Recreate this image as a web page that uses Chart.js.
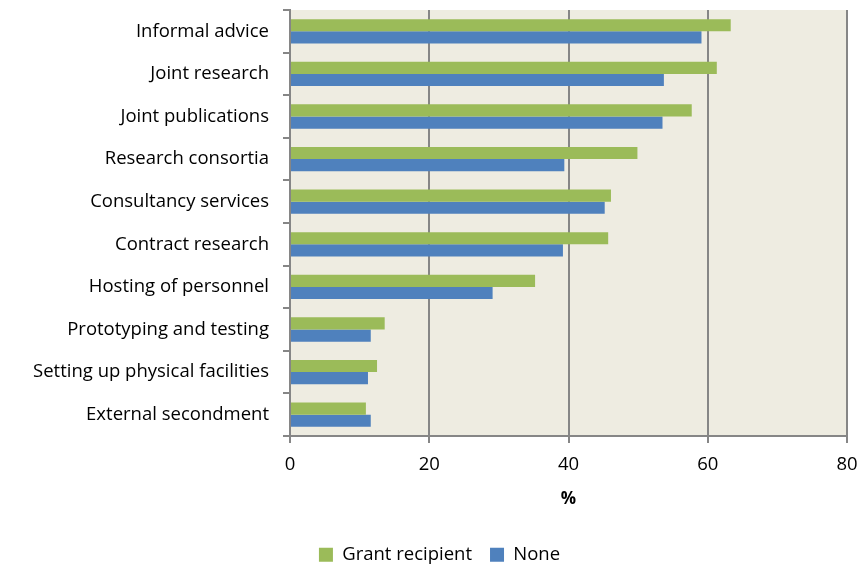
<!DOCTYPE html>
<html>
<head>
<meta charset="utf-8">
<script src="https://cdn.jsdelivr.net/npm/chart.js@4"></script>
<style>
  body { margin: 0; background: #fff; }
  #wrap { width: 859px; height: 565px; }
</style>
</head>
<body>
<div id="wrap"><canvas id="myChart" width="859" height="565"></canvas></div>
<script>
// types of interaction, top to bottom
const categories = [
  'Informal advice',
  'Joint research',
  'Joint publications',
  'Research consortia',
  'Consultancy services',
  'Contract research',
  'Hosting of personnel',
  'Prototyping and testing',
  'Setting up physical facilities',
  'External secondment'
];
const grantRecipient = [63.3, 61.3, 57.7, 49.9, 46.1, 45.7, 35.2, 13.6, 12.5, 10.9];
const none = [59.1, 53.7, 53.5, 39.4, 45.2, 39.2, 29.1, 11.6, 11.2, 11.6];
const xTicks = [0, 20, 40, 60, 80];

const axisGrey = '#868686';
const fontFamily = '"Open Sans", sans-serif';
const bottomPad = -9;
const leftPad = 32;

// beige fill behind the bars
const plotBackground = {
  id: 'plotBackground',
  beforeDraw(chart) {
    const a = chart.chartArea;
    const ctx = chart.ctx;
    ctx.save();
    ctx.fillStyle = '#EEECE1';
    ctx.fillRect(a.left, a.top, a.right - a.left, a.bottom - a.top);
    ctx.restore();
  }
};

const data = {
  labels: categories,
  datasets: [{
    label: 'Grant recipient',
    data: grantRecipient,
    backgroundColor: '#9BBB59',
    borderWidth: 0
  }, {
    label: 'None',
    data: none,
    backgroundColor: '#4F81BD',
    borderWidth: 0
  }]
};

const config = {
  type: 'bar',
  data: data,
  plugins: [plotBackground],
  options: {
    indexAxis: 'y',
    responsive: false,
    animation: false,
    categoryPercentage: 0.57,
    barPercentage: 1,
    layout: { padding: { top: 10, right: 12, left: leftPad, bottom: bottomPad } },
    scales: {
      x: {
        min: 0,
        max: 80,
        afterBuildTicks(axis) { axis.ticks = xTicks.map(v => ({ value: v })); },
        afterFit(axis) {
          // keep the plot bottom at a fixed height above the legend
          axis.height = 565 - bottomPad - 436 - axis.chart.legend.height;
          axis.paddingRight = 0;
          axis.paddingLeft = 0;
        },
        grid: { color: axisGrey, lineWidth: 2, tickLength: 7 },
        border: { color: axisGrey, width: 2 },
        ticks: { color: '#000', font: { family: fontFamily, size: 18.5 }, padding: 11 },
        title: { display: true, text: '%', color: '#000', font: { family: fontFamily, size: 17, weight: 'bold' }, padding: { top: 6, bottom: 18 } }
      },
      y: {
        afterFit(axis) {
          axis.width = 290 - leftPad;
          axis.paddingTop = 0;
          axis.paddingBottom = 0;
        },
        grid: { drawOnChartArea: false, color: axisGrey, lineWidth: 2, tickLength: 7, offset: true },
        border: { color: axisGrey, width: 2 },
        ticks: { color: '#000', font: { family: fontFamily, size: 18.5 }, padding: 14 }
      }
    },
    plugins: {
      legend: {
        position: 'bottom',
        labels: {
          color: '#000',
          font: { family: fontFamily, size: 18.5 },
          boxWidth: 14,
          boxHeight: 14,
          padding: 18
        }
      },
      tooltip: { enabled: false }
    }
  }
};

var myChart = new Chart(document.getElementById('myChart'), config);
</script>
</body>
</html>
